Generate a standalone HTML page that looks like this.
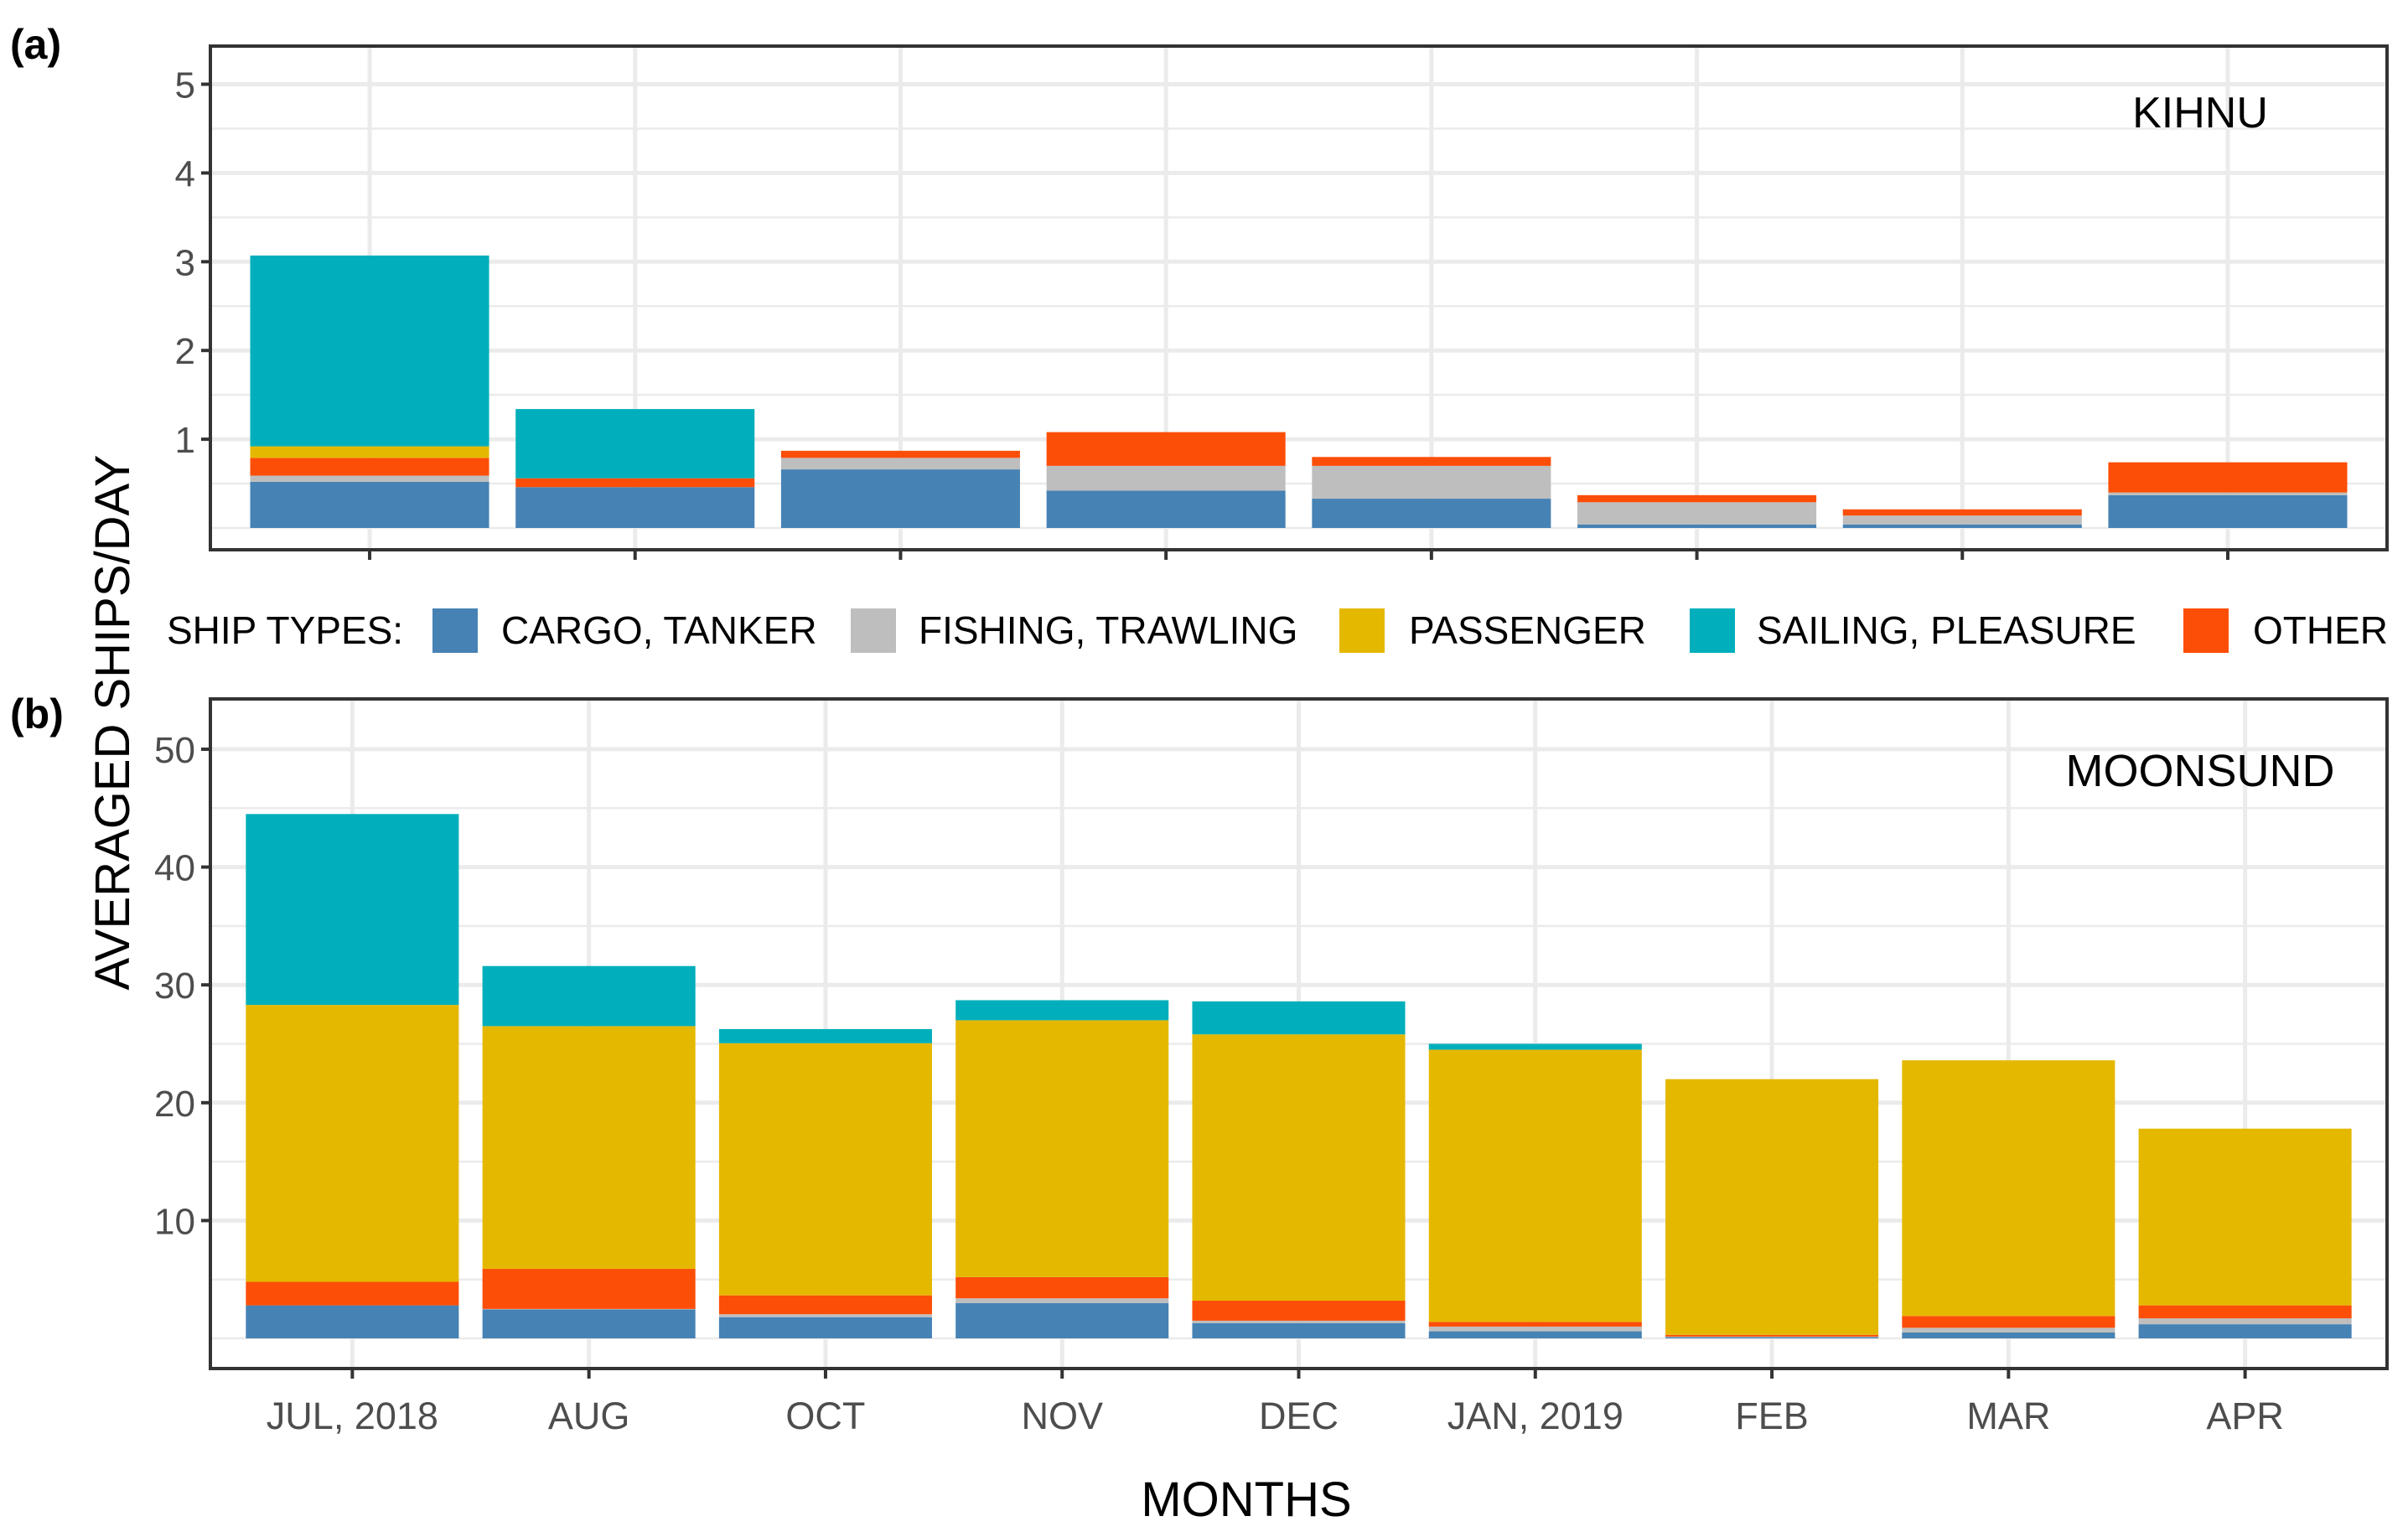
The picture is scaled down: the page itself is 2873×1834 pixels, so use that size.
<!DOCTYPE html>
<html><head><meta charset="utf-8">
<style>html,body{margin:0;padding:0;background:#fff;}svg{display:block;}</style>
</head><body>
<svg id="chart" width="2873" height="1834" viewBox="0 0 2873 1834" xmlns="http://www.w3.org/2000/svg" font-family="'Liberation Sans', Arial, sans-serif">
<g id="panelA"></g>
<g id="panelB"></g>
<text x="12" y="70" font-size="50" font-weight="bold" fill="#000">(a)</text>
<text x="12" y="869" font-size="50" font-weight="bold" fill="#000">(b)</text>
<text transform="translate(154,862) rotate(-90)" text-anchor="middle" font-size="58" fill="#000">AVERAGED SHIPS/DAY</text>
<text x="1487" y="1809" text-anchor="middle" font-size="58" fill="#000">MONTHS</text>
<g>
<text x="199" y="768" font-size="46" fill="#000">SHIP TYPES:</text>
<rect x="516" y="726" width="54" height="53" fill="#4682B4"/>
<text x="598" y="768" font-size="46" fill="#000">CARGO, TANKER</text>
<rect x="1015" y="726" width="54" height="53" fill="#BEBEBE"/>
<text x="1096" y="768" font-size="46" fill="#000">FISHING, TRAWLING</text>
<rect x="1598" y="726" width="54" height="53" fill="#E5B800"/>
<text x="1681" y="768" font-size="46" fill="#000">PASSENGER</text>
<rect x="2016" y="726" width="54" height="53" fill="#00AFBB"/>
<text x="2096" y="768" font-size="46" fill="#000">SAILING, PLEASURE</text>
<rect x="2605" y="726" width="54" height="53" fill="#FC4E07"/>
<text x="2688" y="768" font-size="46" fill="#000">OTHER</text>
</g>
</svg>
<script>
// Panel A (KIHNU) data
const catsA = ["JUL, 2018","AUG","OCT","NOV","DEC","JAN, 2019","FEB","MAR"];
const cargoA = [0.52,0.46,0.66,0.42,0.33,0.04,0.04,0.37];
const fishingA = [0.07,0.00,0.13,0.28,0.37,0.25,0.10,0.03];
const otherA = [0.20,0.10,0.08,0.38,0.10,0.08,0.07,0.34];
const passengerA = [0.13,0.00,0.00,0.00,0.00,0.00,0.00,0.00];
const sailingA = [2.15,0.78,0.00,0.00,0.00,0.00,0.00,0.00];
const ticksA = [1,2,3,4,5];
// Panel B (MOONSUND) data
const catsB = ["JUL, 2018","AUG","OCT","NOV","DEC","JAN, 2019","FEB","MAR","APR"];
const cargoB = [2.8,2.45,1.8,3.0,1.3,0.6,0.1,0.5,1.2];
const fishingB = [0.0,0.05,0.25,0.4,0.2,0.4,0.05,0.4,0.5];
const otherB = [2.0,3.4,1.6,1.8,1.7,0.4,0.15,1.0,1.1];
const passengerB = [23.5,20.6,21.4,21.8,22.6,23.1,21.7,21.7,15.0];
const sailingB = [16.2,5.1,1.2,1.7,2.8,0.5,0.0,0.0,0.0];
const ticksB = [10,20,30,40,50];

const colors = {cargo:"#4682B4",fishing:"#BEBEBE",other:"#FC4E07",passenger:"#E5B800",sailing:"#00AFBB"};
const NS = "http://www.w3.org/2000/svg";
function mk(parent, tag, attrs){const e=document.createElementNS(NS,tag);for(const k in attrs)e.setAttribute(k,attrs[k]);parent.appendChild(e);return e;}

function panel(g, cats, series, ticks, opt){
  const L=251,R=2848,T=opt.top,B=opt.bottom;
  const n=cats.length, unit=(R-L)/(n+0.2);
  const xc=i=>L+(i+0.6)*unit;
  const y=v=>opt.y0-v*opt.scale;
  for(let v=0; y(v)>T; v+=opt.minorStep){
    const l=mk(g,'line',{x1:L,x2:R,y1:y(v),y2:y(v),stroke:'#ebebeb','stroke-width':2.5});
    
    
  }
  ticks.forEach(t=>{
    const l=mk(g,'line',{x1:L,x2:R,y1:y(t),y2:y(t),stroke:'#ebebeb','stroke-width':5});
    
    
  });
  cats.forEach((c,i)=>{
    const l=mk(g,'line',{x1:xc(i),x2:xc(i),y1:T,y2:B,stroke:'#ebebeb','stroke-width':5});
    
    
  });
  const bw=unit*0.9;
  cats.forEach((c,i)=>{
    let acc=0;
    series.forEach(s=>{
      const v=s.vals[i];
      if(v<=0)return;
      const r=mk(g,'rect',{x:xc(i)-bw/2,y:y(acc+v),width:bw,height:v*opt.scale,fill:colors[s.key]});
      
      
      acc+=v;
    });
  });
  const f=mk(g,'rect',{x:L,y:T,width:R-L,height:B-T,fill:'none',stroke:'#333','stroke-width':4});
  
  
  ticks.forEach(t=>{
    const tl=mk(g,'line',{x1:L-11,x2:L,y1:y(t),y2:y(t),stroke:'#333','stroke-width':4});
    
    
    const tx=mk(g,'text',{x:L-18,y:y(t)+16,'text-anchor':'end','font-size':44,fill:'#4d4d4d'});
    tx.textContent=t;
    
    
  });
  cats.forEach((c,i)=>{
    const tl=mk(g,'line',{x1:xc(i),x2:xc(i),y1:B,y2:B+12,stroke:'#333','stroke-width':4});
    
    
    if(opt.labels){
      const tx=mk(g,'text',{x:xc(i),y:1705,'text-anchor':'middle','font-size':45,fill:'#4d4d4d'});
      tx.textContent=c;
      
      
    }
  });
  const tt=mk(g,'text',{x:opt.titleX,y:opt.titleY,'text-anchor':'middle','font-size':opt.titleSize,fill:'#000'});
  tt.textContent=opt.title;
  
  
}
panel(document.getElementById('panelA'), catsA, [
  {key:'cargo',vals:cargoA},{key:'fishing',vals:fishingA},{key:'other',vals:otherA},
  {key:'passenger',vals:passengerA},{key:'sailing',vals:sailingA}], ticksA,
  {top:55,bottom:656,y0:630,scale:105.9,minorStep:0.5,labels:false,title:'KIHNU',titleX:2625,titleY:152,titleSize:52});
panel(document.getElementById('panelB'), catsB, [
  {key:'cargo',vals:cargoB},{key:'fishing',vals:fishingB},{key:'other',vals:otherB},
  {key:'passenger',vals:passengerB},{key:'sailing',vals:sailingB}], ticksB,
  {top:834,bottom:1633,y0:1597,scale:14.06,minorStep:5,labels:true,title:'MOONSUND',titleX:2625,titleY:938,titleSize:54});
</script>
</body></html>
